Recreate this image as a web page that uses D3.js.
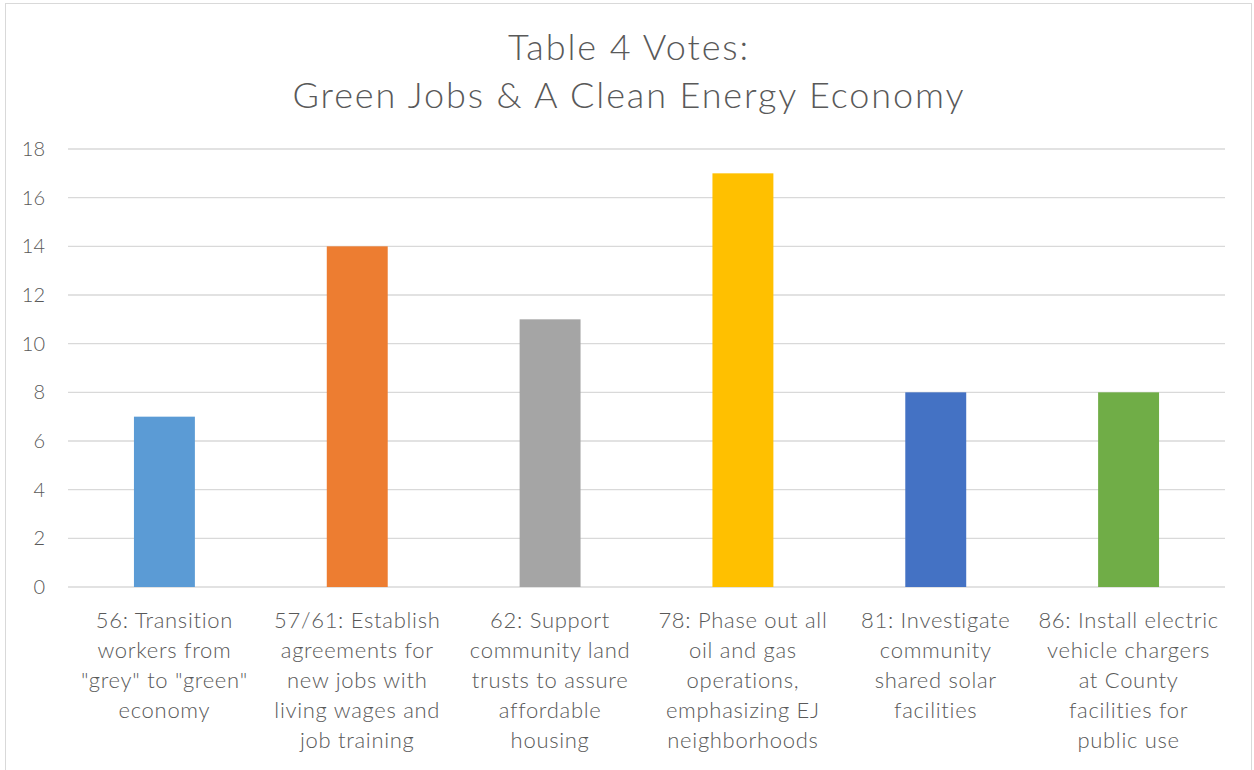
<!DOCTYPE html>
<html>
<head>
<meta charset="utf-8">
<script src="https://cdn.jsdelivr.net/npm/d3@7"></script>
<style>
  body { margin: 0; background: #fff; }
  svg { display: block; font-family: Lato, "Noto Sans", sans-serif; }
</style>
</head>
<body>
<div class="canvas"></div>
<script>
const categories = [
  ['56: Transition', 'workers from', '"grey" to "green"', 'economy'],
  ['57/61: Establish', 'agreements for', 'new jobs with', 'living wages and', 'job training'],
  ['62: Support', 'community land', 'trusts to assure', 'affordable', 'housing'],
  ['78: Phase out all', 'oil and gas', 'operations,', 'emphasizing EJ', 'neighborhoods'],
  ['81: Investigate', 'community', 'shared solar', 'facilities'],
  ['86: Install electric', 'vehicle chargers', 'at County', 'facilities for', 'public use']
];
const votes = [7, 14, 11, 17, 8, 8];
const colors = ['#5B9BD5', '#ED7D31', '#A5A5A5', '#FFC000', '#4472C4', '#70AD47'];
const yTicks = [0, 2, 4, 6, 8, 10, 12, 14, 16, 18];
const titleLines = ['Table 4 Votes:', 'Green Jobs & A Clean Energy Economy'];

const dims = { width: 1254, height: 770 };
const plot = { left: 68, right: 1225, top: 149, bottom: 587 };

const svg = d3.select('.canvas')
  .append('svg')
  .attr('width', dims.width)
  .attr('height', dims.height);

// chart border
svg.append('rect')
  .attr('x', 5.5).attr('y', 3.5)
  .attr('width', 1246).attr('height', 780)
  .attr('fill', '#fff')
  .attr('stroke', '#d9d9d9');

// title
svg.append('g')
  .selectAll('text')
  .data(titleLines)
  .enter()
  .append('text')
  .attr('x', 629)
  .attr('y', (d, i) => 60 + i * 48)
  .attr('text-anchor', 'middle')
  .attr('font-size', 36)
  .attr('font-weight', 300)
  .attr('letter-spacing', 1.9)
  .attr('fill', '#595959')
  .text(d => d);

const x = d3.scaleBand()
  .domain(d3.range(votes.length))
  .range([plot.left, plot.right])
  .paddingInner(0.684)
  .paddingOuter(0.342);

const y = d3.scaleLinear()
  .domain([0, 18])
  .range([plot.bottom, plot.top]);

// gridlines
svg.append('g')
  .selectAll('line')
  .data(yTicks)
  .enter()
  .append('line')
  .attr('x1', plot.left).attr('x2', plot.right)
  .attr('y1', d => y(d)).attr('y2', d => y(d))
  .attr('stroke', '#d9d9d9')
  .attr('stroke-width', 1.3);

// y axis labels
const yAxis = d3.axisLeft(y).tickValues(yTicks).tickSize(0).tickPadding(0);
const yGroup = svg.append('g')
  .attr('transform', `translate(45, 0)`)
  .call(yAxis);
yGroup.select('.domain').remove();
yGroup.selectAll('text')
  .attr('font-family', 'Lato, "Noto Sans", sans-serif')
  .attr('font-size', 20)
  .attr('font-weight', 300)
  .attr('fill', '#595959');

// bars
svg.append('g')
  .selectAll('rect')
  .data(votes)
  .enter()
  .append('rect')
  .attr('x', (d, i) => x(i))
  .attr('width', x.bandwidth())
  .attr('y', d => y(d))
  .attr('height', d => y(0) - y(d))
  .attr('fill', (d, i) => colors[i]);

// x labels
const labels = svg.append('g')
  .selectAll('text')
  .data(categories)
  .enter()
  .append('text')
  .attr('text-anchor', 'middle')
  .attr('font-size', 22)
  .attr('font-weight', 300)
  .attr('letter-spacing', 0.7)
  .attr('fill', '#595959')
  .attr('transform', (d, i) => `translate(${x(i) + x.bandwidth() / 2}, 628)`);

labels.selectAll('tspan')
  .data(d => d)
  .enter()
  .append('tspan')
  .attr('x', 0)
  .attr('y', (d, i) => i * 30)
  .text(d => d);
</script>
</body>
</html>
